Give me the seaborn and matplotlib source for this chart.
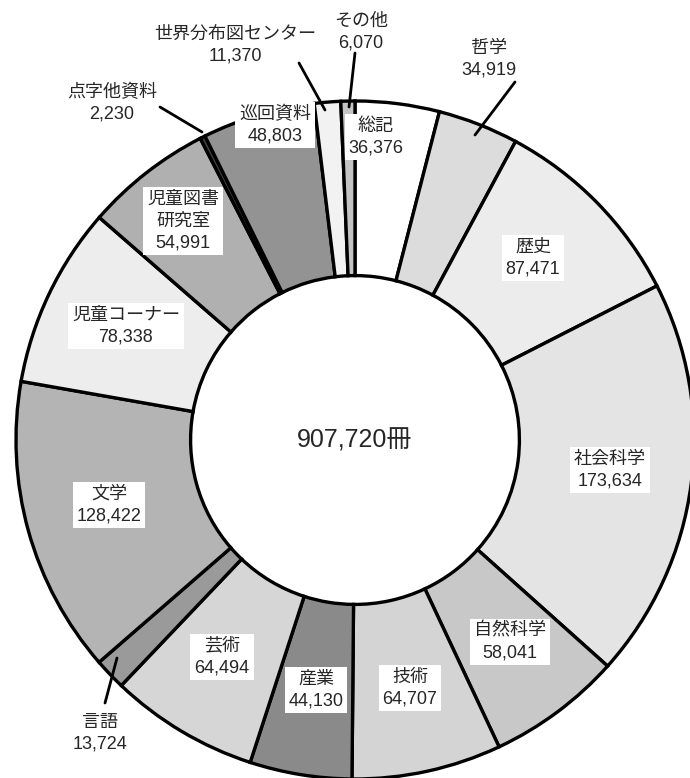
import matplotlib
matplotlib.use("Agg")
import matplotlib.pyplot as plt
import seaborn as sns

# ---- data ----
categories = ["総記", "哲学", "歴史", "社会科学", "自然科学", "技術", "産業", "芸術",
              "言語", "文学", "児童コーナー", "児童図書\n研究室", "点字他資料", "巡回資料",
              "世界分布図センター", "その他"]
values = [36376, 34919, 87471, 173634, 58041, 64707, 44130, 64494,
          13724, 128422, 78338, 54991, 2230, 48803, 11370, 6070]
total_label = "907,720冊"

# ---- style ----
sns.set_theme(style="white")
FAM = ["Liberation Sans", "Noto Sans CJK JP", "DejaVu Sans"]
plt.rcParams["font.family"] = FAM

colors = ["#ffffff", "#dcdcdc", "#ececec", "#e4e4e4", "#c8c8c8", "#d4d4d4", "#8a8a8a", "#d6d6d6",
          "#9a9a9a", "#b4b4b4", "#ededed", "#b0b0b0", "#404040", "#939393", "#f2f2f2", "#c4c4c4"]

W, H = 690, 778
CX, CY, R = 355, 440, 339

fig = plt.figure(figsize=(W / 100, H / 100), dpi=100)
ax = fig.add_axes([0, 0, 1, 1])

wedges, _ = ax.pie(values, colors=colors, startangle=90, counterclock=False, radius=1.0,
                   wedgeprops=dict(width=0.515, edgecolor="black", linewidth=2.4))
ax.set_xlim(-CX / R, (W - CX) / R)
ax.set_ylim(-(H - CY) / R, CY / R)
ax.set_aspect("auto")
ax.axis("off")


def p2d(px, py):
    return (px - CX) / R, (CY - py) / R


# label layout (pixel centres), inside labels boxed
inside_pos = {
    "総記": (376, 137), "歴史": (533, 258), "社会科学": (610, 470), "自然科学": (510, 642),
    "技術": (410, 688), "産業": (316, 690), "芸術": (222, 657), "文学": (109, 505),
    "児童コーナー": (126, 326), "児童図書\n研究室": (183, 221), "巡回資料": (275, 125),
}
outside_pos = {
    "哲学": ((489, 59), (515, 82), (475, 135)),
    "言語": ((100, 733), (105, 703), (117, 658)),
    "点字他資料": ((112, 103), (160, 107), (202, 132)),
    "世界分布図センター": ((235, 45), (299, 63), (325, 110)),
    "その他": ((361, 32), (355, 53), (349, 107)),
}

for cat, val in zip(categories, values):
    txt = f"{cat}\n{val:,}"
    if cat in inside_pos:
        x, y = p2d(*inside_pos[cat])
        ax.text(x, y, txt, ha="center", va="center", fontsize=13, linespacing=1.35,
                family=FAM, zorder=5,
                bbox=dict(boxstyle="square,pad=0.22", fc="white", ec="none"))
    else:
        (tx, ty), (lx0, ly0), (lx1, ly1) = outside_pos[cat]
        x, y = p2d(tx, ty)
        ax.text(x, y, txt, ha="center", va="center", fontsize=13, linespacing=1.35,
                family=FAM, zorder=5)
        a, b = p2d(lx0, ly0)
        c, d = p2d(lx1, ly1)
        ax.plot([a, c], [b, d], color="black", lw=2, zorder=4)

ax.text(0, 0, total_label, ha="center", va="center", fontsize=18, family=FAM)

fig.savefig("out.png", dpi=100)
